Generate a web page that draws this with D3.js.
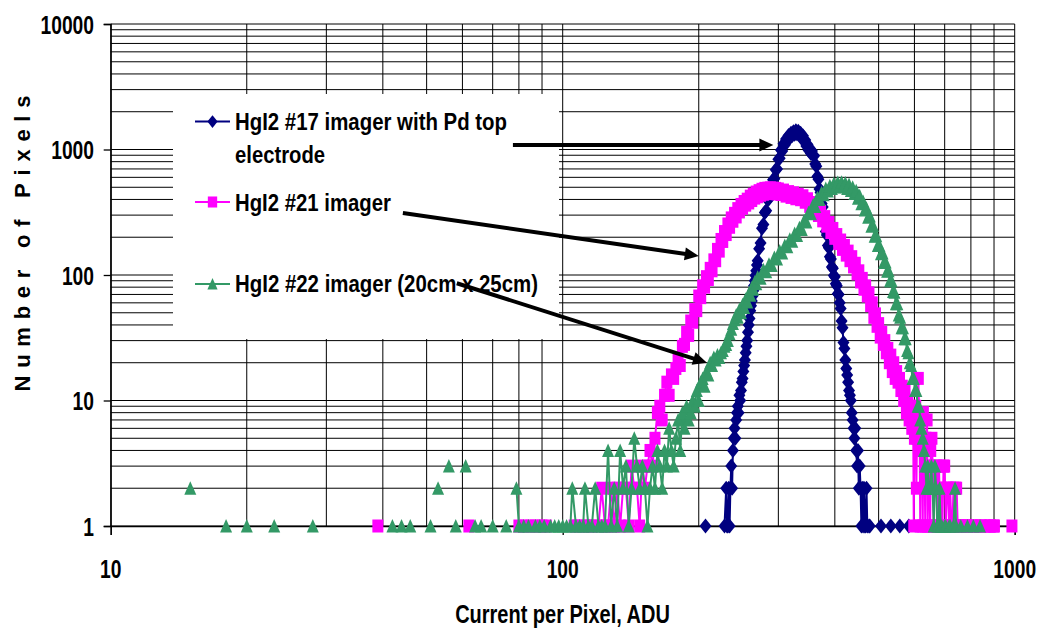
<!DOCTYPE html>
<html>
<head>
<meta charset="utf-8">
<script src="https://cdn.jsdelivr.net/npm/d3@7"></script>
<style>
  body { margin: 0; background: #fff; }
  svg { display: block; }
  text { font-family: "Liberation Sans", Arial, sans-serif; font-weight: bold; fill: #000; }
</style>
</head>
<body>
<svg id="chart" width="1040" height="630"></svg>
<script>
// ---- data: pixel-count histograms, [current (ADU), number of pixels]; 0 = empty bin ----
const xTickValues = [10, 100, 1000];
const yTickValues = [1, 10, 100, 1000, 10000];
const xTitle = "Current per Pixel, ADU";
const yTitle = "Number of Pixels";

const seriesNames = [
  ["HgI2 #17 imager with Pd top", "electrode"],
  ["HgI2 #21 imager"],
  ["HgI2 #22 imager (20cm x 25cm)"]
];
const seriesColors = ["#000080", "#ff00ff", "#339966"];
const seriesMarkers = ["diamond", "square", "triangle"];

const imager17 = [
  [207,1],[208,0],
  [228,1],[230,2],[231,1],[232,1],[233,2],[234,1],[235,2],[236,3],[237,2],[238,4],[239,5],[240,6],
  [241,5],[242,7],[243,8],[244,9],[245,8],[246,11],[247,10],[248,12],[249,14],[250,15],[251,17],
  [252,19],[253,21],[254,24],[255,27],[256,30],[257,35],[258,40],[259,45],[260,52],[261,57],
  [262,62],[263,68],[264,75],[265,82],[266,90],[267,99],[268,108],[269,120],[270,130],[272,162],
  [274,180],[276,236],[278,252],[280,315],[282,325],[284,398],[286,405],[288,485],[290,490],
  [292,575],[294,585],[296,690],[298,700],[300,835],[302,850],[304,990],[306,975],[308,1110],
  [310,1085],[312,1210],[314,1170],[316,1290],[318,1240],[320,1350],[322,1290],[324,1385],
  [326,1320],[328,1410],[330,1330],[332,1395],[334,1300],[336,1350],[338,1240],[340,1285],
  [342,1160],[344,1190],[346,1065],[348,1095],[350,985],[352,1020],[354,930],[356,975],[358,905],
  [360,890],[362,765],[364,735],[366,610],[368,580],[370,485],[372,455],[374,372],[376,348],
  [378,285],[380,270],[382,222],[384,208],[386,172],[388,165],[390,140],[392,134],[394,116],
  [396,113],[398,99],[400,97],[402,85],[404,82],[406,71],[408,70],[410,60],[412,54],[414,43],
  [416,38],[418,29],[420,26],[422,21],[424,18],[426,16],[428,14],[430,12],[432,11],[434,10],
  [436,8],[438,7],[440,6],[442,5],[444,6],[446,4],[448,3],[450,4],[452,2],[454,3],[456,2],
  [458,1],[460,2],[462,1],[464,2],[466,1],[468,1],[470,2],[472,1],[474,0],[476,1],[478,1],
  [480,0],[506,1],[507,0],[532,1],[533,0],[557,1],[558,0],[583,1]
];

const imager21 = [
  [39,1],[40,0],[62,1],[63,0],
  [80,1],[82,1],[83,0],[85,1],[87,1],[88,0],[90,1],[92,1],[93,0],[106,1],[108,1],[109,0],
  [112,1],[114,1],[116,1],[117,0],[120,1],[122,2],[124,1],[126,1],[128,2],[130,1],[132,2],
  [134,1],[136,2],[138,2],[140,1],[142,3],[144,2],[146,2],[148,1],[150,3],[152,2],[154,3],
  [156,4],[158,3],[160,5],[162,8],[164,9],[166,7],[168,11],[170,14],[172,11],[174,16],[176,15],
  [178,18],[180,21],[182,19],[184,27],[186,28],[188,35],[190,33],[192,43],[194,42],[196,53],
  [198,52],[200,68],[202,66],[204,82],[206,80],[208,97],[210,92],[212,113],[214,108],[216,132],
  [218,130],[220,160],[222,155],[224,192],[226,185],[228,222],[230,210],[232,255],[234,240],
  [236,285],[238,268],[240,310],[242,290],[244,338],[246,318],[248,365],[250,340],[252,385],
  [254,360],[256,402],[258,375],[260,425],[262,392],[264,440],[266,410],[268,458],[270,420],
  [272,470],[274,432],[276,482],[278,440],[280,490],[282,445],[284,492],[286,448],[288,495],
  [290,450],[292,492],[294,446],[296,490],[298,442],[300,485],[304,438],[308,475],[312,425],
  [316,462],[320,415],[324,452],[328,405],[332,440],[336,398],[340,428],[344,380],[348,405],
  [352,352],[356,378],[360,325],[364,350],[368,298],[372,322],[376,270],[380,292],[384,245],
  [388,262],[392,218],[396,235],[400,196],[404,210],[408,178],[412,190],[416,160],[420,172],
  [424,144],[428,155],[432,130],[436,140],[440,116],[444,124],[448,102],[452,108],[456,88],
  [460,94],[464,77],[468,82],[472,68],[476,72],[480,57],[484,60],[488,46],[492,49],[496,39],
  [500,41],[504,32],[508,35],[512,28],[516,30],[520,24],[524,26],[528,20],[532,23],[536,17],
  [540,20],[544,15],[548,17],[552,14],[556,15],[560,12],[564,13],[568,10],[572,12],[576,8],
  [580,10],[584,7],[588,9],[592,6],[596,8],[598,1],[600,5],[604,9],[606,2],[608,5],[612,15],
  [616,6],[618,1],[620,4],[624,7],[626,1],[628,8],[632,3],[634,1],[636,5],[640,7],[642,1],
  [644,3],[648,2],[650,1],[652,4],[656,5],[660,2],[662,1],[664,3],[668,2],[672,3],[674,1],
  [676,2],[680,3],[684,1],[688,2],[692,1],[696,3],[700,3],[704,1],[708,2],[712,2],[716,1],
  [720,2],[724,1],[728,1],[732,2],[736,1],[740,2],[744,2],[748,1],[752,1],[756,1],[760,0],
  [766,1],[770,1],[774,0],[782,1],[786,1],[790,0],[800,1],[804,1],[808,0],[818,1],[822,1],
  [826,0],[840,1],[844,1],[848,0],[860,1],[864,0],[880,1],[884,1],[888,0],[898,1],[902,1],
  [906,0],[986,1]
];

const imager22 = [
  [15,2],[16,0],[18,1],[19,0],[20,1],[21,0],[23,1],[24,0],[28,1],[29,0],[42,1],[43,0],
  [44,1],[45,0],[46,1],[47,0],[51,1],[52,0],[53,2],[54,0],[56,3],[57,0],[58,1],[59,0],
  [61,3],[62,0],[64,1],[65,0],[66,1],[67,0],[70,1],[71,0],[75,1],[76,0],[79,2],[80,1],
  [82,1],[84,1],[85,0],[87,1],[89,1],[91,1],[92,0],[94,1],[96,1],[98,1],[100,1],[102,1],
  [104,1],[105,2],[107,1],[109,1],[111,1],[112,2],[114,1],[116,1],[118,2],[120,1],[122,1],
  [124,1],[126,4],[128,1],[130,2],[132,1],[134,4],[136,2],[138,3],[140,1],[142,2],[144,5],
  [146,3],[148,2],[150,3],[152,2],[154,1],[156,2],[158,3],[160,2],[162,4],[164,3],[166,2],
  [168,4],[170,3],[172,6],[174,4],[176,3],[178,5],[180,7],[182,4],[184,8],[186,6],[188,9],
  [190,7],[192,8],[194,10],[196,9],[198,12],[200,10],[202,14],[204,15],[206,13],[208,17],
  [210,16],[212,20],[214,19],[216,22],[218,21],[220,23],[222,22],[224,24],[226,25],[228,27],
  [230,28],[232,30],[234,34],[236,37],[238,41],[240,44],[242,48],[244,46],[246,53],[248,50],
  [250,58],[252,55],[254,64],[256,61],[258,71],[260,69],[262,79],[264,77],[266,88],[268,85],
  [270,96],[274,94],[278,110],[282,106],[286,122],[290,119],[294,138],[298,134],[302,155],
  [306,150],[310,172],[314,168],[318,193],[322,186],[326,214],[330,206],[334,238],[338,230],
  [342,270],[346,265],[350,315],[354,308],[358,362],[362,352],[366,412],[370,400],[374,455],
  [378,436],[382,490],[386,468],[390,515],[394,488],[398,535],[402,502],[406,545],[410,510],
  [414,548],[418,505],[422,540],[426,490],[430,525],[434,472],[438,500],[442,446],[446,470],
  [450,408],[454,428],[458,370],[462,385],[466,330],[470,340],[474,288],[478,295],[482,245],
  [486,248],[490,204],[494,205],[498,172],[502,172],[506,148],[510,150],[514,126],[518,127],
  [522,107],[526,108],[530,90],[534,90],[538,74],[542,73],[546,59],[550,59],[554,48],[558,46],
  [562,38],[566,38],[570,31],[574,31],[578,25],[582,24],[586,20],[590,19],[594,15],[598,15],
  [602,12],[606,12],[610,9],[614,9],[618,7],[622,6],[626,5],[630,4],[634,3],[638,2],[642,3],
  [646,2],[650,2],[654,3],[658,2],[662,1],[666,3],[670,2],[674,1],[678,1],[682,2],[686,1],
  [690,1],[694,0],[700,1],[704,1],[708,0],[716,1],[720,1],[724,0],[732,1],[738,2],[742,1],
  [746,0],[760,1],[764,0],[786,1],[790,0],[810,1],[814,0],[838,1]
];

// callout arrows, [current, pixels] from tail to head
const callouts = [
  [[77.6, 1086], [292.5, 1086]],
  [[44.3, 312], [200, 142]],
  [[58.3, 86], [208.5, 20]]
];

// ---- layout ----
const svg = d3.select("#chart");
const plot = { left: 110.7, right: 1014.7, top: 24, bottom: 526 };

const x = d3.scaleLog().domain([10, 1000]).range([plot.left, plot.right]);
const y = d3.scaleLog().domain([1, 10000]).range([plot.bottom, plot.top]);

// gridlines (major and minor) on both axes
const grid = svg.append("g").attr("stroke", "#000").attr("stroke-width", 1);
grid.selectAll("line.h").data(y.ticks()).join("line")
  .attr("class", "h")
  .attr("x1", plot.left).attr("x2", plot.right)
  .attr("y1", d => y(d)).attr("y2", d => y(d));
grid.selectAll("line.v").data(x.ticks()).join("line")
  .attr("class", "v")
  .attr("y1", plot.top).attr("y2", plot.bottom)
  .attr("x1", d => x(d)).attr("x2", d => x(d));

// axes
const yAxis = d3.axisLeft(y).tickValues(yTickValues).tickSize(7).tickFormat("");
const xAxis = d3.axisBottom(x).tickValues(xTickValues).tickSize(9).tickFormat("");
svg.append("g").attr("transform", `translate(${plot.left},0)`).call(yAxis)
  .call(g => g.select(".domain").attr("stroke", "#000").attr("stroke-width", 1.3))
  .call(g => g.selectAll(".tick line").attr("stroke", "#000").attr("stroke-width", 1.3));
svg.append("g").attr("transform", `translate(0,${plot.bottom})`).call(xAxis)
  .call(g => g.select(".domain").attr("stroke", "#000").attr("stroke-width", 1.3))
  .call(g => g.selectAll(".tick line").attr("stroke", "#000").attr("stroke-width", 1.3));

// tick labels
svg.append("g").selectAll("text").data(yTickValues).join("text")
  .attr("transform", d => `translate(94,${y(d) + 9.5}) scale(0.74,1)`)
  .attr("text-anchor", "end").style("font-size", "26px")
  .text(d => d);
svg.append("g").selectAll("text").data(xTickValues).join("text")
  .attr("transform", d => `translate(${x(d)},578) scale(0.74,1)`)
  .attr("text-anchor", "middle").style("font-size", "26px")
  .text(d => d);

// axis titles
svg.append("text")
  .attr("transform", "translate(562.5,623) scale(0.8,1)")
  .attr("text-anchor", "middle").style("font-size", "25px")
  .text(xTitle);
svg.append("text")
  .attr("transform", "translate(30,243.5) rotate(-90)")
  .attr("text-anchor", "middle").style("font-size", "22px")
  .attr("textLength", 296).attr("lengthAdjust", "spacing")
  .text(yTitle);

// legend panel
svg.append("rect").attr("x", 173).attr("y", 94).attr("width", 386).attr("height", 245)
  .attr("fill", "#fff");

// marker shapes
function markerPath(kind) {
  if (kind === "diamond") return "M0,-7.5L6,0L0,7.5L-6,0Z";
  if (kind === "square") return "M-5.5,-6.5H5.5V6.5H-5.5Z";
  return "M0,-7L6,6.5L-6,6.5Z";
}

// series
const seriesData = [imager17, imager21, imager22];
seriesData.forEach((data, i) => {
  const g = svg.append("g");
  const line = d3.line()
    .defined(d => d[1] > 0)
    .x(d => x(d[0])).y(d => y(d[1]));
  g.append("path").datum(data)
    .attr("fill", "none").attr("stroke", seriesColors[i]).attr("stroke-width", 2)
    .attr("d", line);
  g.selectAll("path.m").data(data.filter(d => d[1] > 0)).join("path")
    .attr("class", "m")
    .attr("transform", d => `translate(${x(d[0])},${y(d[1])})`)
    .attr("d", markerPath(seriesMarkers[i]))
    .attr("fill", seriesColors[i]);
});

// legend entries
const legendRows = [121.5, 202, 284];
const legendBaselines = [[129.5, 162.5], [210.5], [291.5]];
const legendWidths = [[272, 90], [156], [303]];
seriesNames.forEach((lines, i) => {
  const g = svg.append("g");
  g.append("line").attr("x1", 195).attr("x2", 230)
    .attr("y1", legendRows[i]).attr("y2", legendRows[i])
    .attr("stroke", seriesColors[i]).attr("stroke-width", 2);
  g.append("path").attr("transform", `translate(212.5,${legendRows[i]}) scale(0.85)`)
    .attr("d", markerPath(seriesMarkers[i])).attr("fill", seriesColors[i]);
  lines.forEach((t, j) => {
    g.append("text").attr("x", 235).attr("y", legendBaselines[i][j])
      .style("font-size", "23px")
      .attr("textLength", legendWidths[i][j]).attr("lengthAdjust", "spacingAndGlyphs")
      .text(t);
  });
});

// callout arrows
const arrows = svg.append("g");
callouts.forEach(([from, to]) => {
  const x0 = x(from[0]), y0 = y(from[1]), x1 = x(to[0]), y1 = y(to[1]);
  const a = Math.atan2(y1 - y0, x1 - x0);
  const headLen = 14, headHalf = 6.5;
  const bx = x1 - headLen * Math.cos(a), by = y1 - headLen * Math.sin(a);
  arrows.append("line").attr("x1", x0).attr("y1", y0).attr("x2", bx + Math.cos(a)).attr("y2", by + Math.sin(a))
    .attr("stroke", "#000").attr("stroke-width", 4);
  const px = -Math.sin(a) * headHalf, py = Math.cos(a) * headHalf;
  arrows.append("path")
    .attr("d", `M${x1},${y1}L${bx + px},${by + py}L${bx - px},${by - py}Z`)
    .attr("fill", "#000");
});
</script>
</body>
</html>
